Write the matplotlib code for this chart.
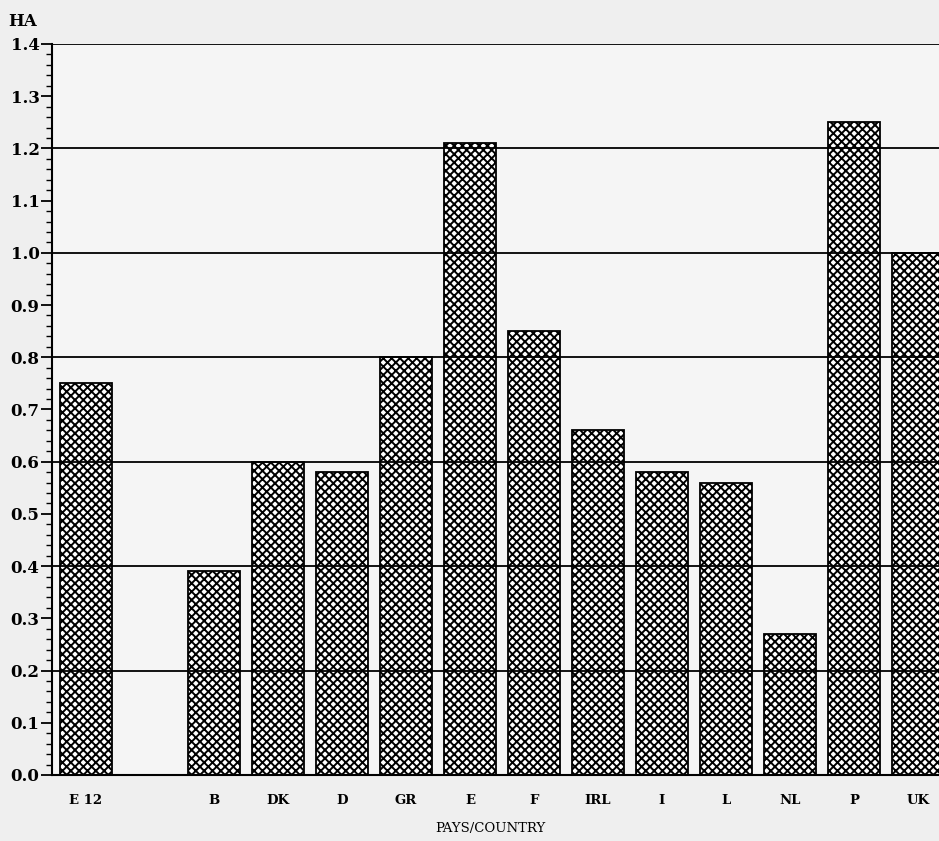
import matplotlib
matplotlib.use("Agg")
import matplotlib.pyplot as plt
from matplotlib.ticker import MultipleLocator
import numpy as np

# data
countries = ["E 12", "", "B", "DK", "D", "GR", "E", "F", "IRL", "I", "L", "NL", "P", "UK"]
hectares = [0.75, 0.0, 0.39, 0.60, 0.58, 0.80, 1.21, 0.85, 0.66, 0.58, 0.56, 0.27, 1.25, 1.00]

plt.rcParams["font.family"] = ["DejaVu Serif"]
plt.rcParams["hatch.linewidth"] = 1.4

fig = plt.figure(figsize=(9.39, 8.41), dpi=100, facecolor="#efefef")
ax = fig.add_axes([0.0554, 0.0785, 0.9446, 0.8692])
ax.set_facecolor("#f5f5f5")

x = np.arange(len(countries))
for xi, v in zip(x, hectares):
    if v > 0:
        ax.bar(xi, v, width=0.81, color="white", edgecolor="black",
               hatch="xxxx", linewidth=1.3, zorder=2)

for g in np.arange(0.2, 1.41, 0.2):
    ax.axhline(g, color="black", linewidth=1.3, zorder=3)

ax.set_xlim(-0.53, 13.33)
ax.set_ylim(0, 1.4)
ax.set_xticks(x)
ax.set_xticklabels(countries, fontsize=9.5, fontweight="bold")
ax.tick_params(axis="x", length=0, pad=14)
ax.yaxis.set_minor_locator(MultipleLocator(0.02))
ax.set_yticks(np.arange(0, 1.41, 0.1))
ax.set_yticklabels(["%.1f" % t for t in np.arange(0, 1.41, 0.1)],
                   fontsize=12, fontweight="bold")
ax.tick_params(axis="y", which="major", length=8, width=1.3, pad=1)
ax.tick_params(axis="y", which="minor", length=4, width=1.0)

for s in ["top", "right"]:
    ax.spines[s].set_visible(False)
ax.spines["left"].set_linewidth(1.5)
ax.spines["bottom"].set_linewidth(1.5)

fig.text(0.009, 0.975, "HA", fontsize=12, fontweight="bold", va="center")
fig.text(0.522, 0.015, "PAYS/COUNTRY", fontsize=9.5, ha="center", va="center")

fig.savefig("out.png", dpi=100, facecolor=fig.get_facecolor())
